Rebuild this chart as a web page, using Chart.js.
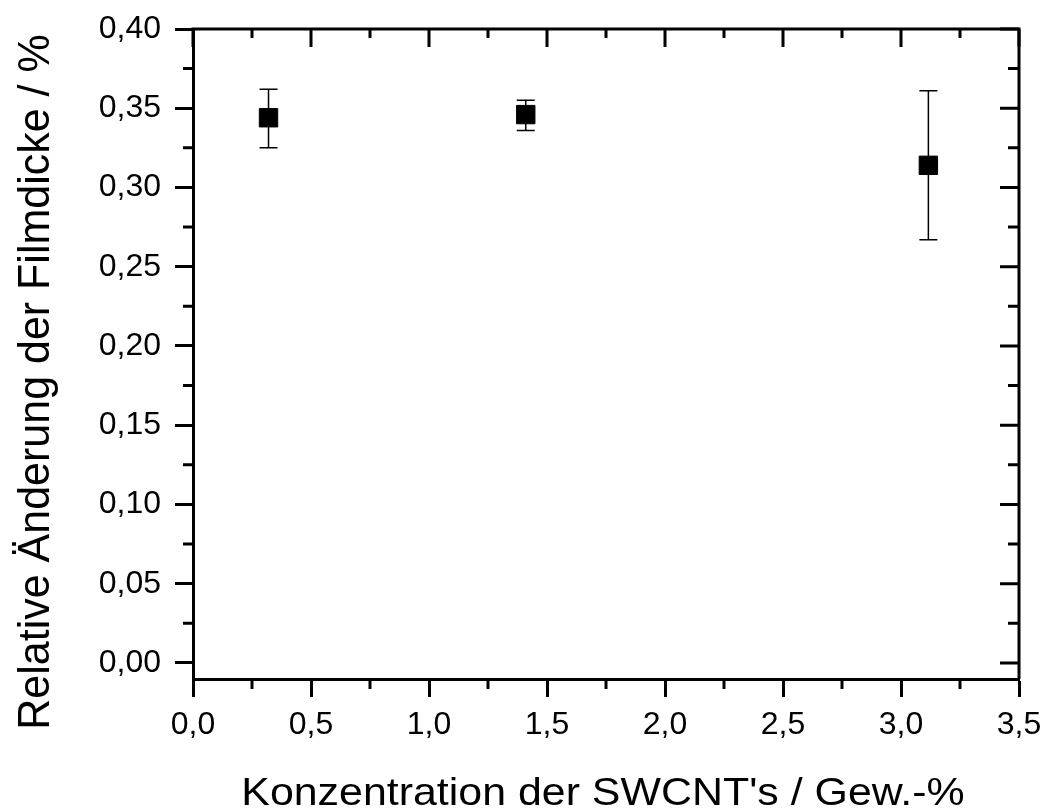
<!DOCTYPE html>
<html>
<head>
<meta charset="utf-8">
<script src="https://cdn.jsdelivr.net/npm/chart.js@4.4.1/dist/chart.umd.min.js"></script>
<style>
  html, body { margin: 0; padding: 0; background: #fff; }
  #wrap { width: 1044px; height: 809px; }
</style>
</head>
<body>
<div id="wrap"><canvas id="chart" width="1044" height="809"></canvas></div>
<script>
// Data
const concentration = [0.32, 1.41, 3.116];      // Gew.-%
const thicknessChange = [0.344, 0.346, 0.314];  // relative change / %
const errLow = [0.325, 0.336, 0.267];
const errHigh = [0.362, 0.355, 0.361];

const xTitle = 'Konzentration der SWCNT\'s / Gew.-%';
const yTitle = 'Relative Änderung der Filmdicke / %';

const FONT = '"Liberation Sans", Arial, sans-serif';

const comma = (v, d) => v.toFixed(d).replace('.', ',');

// error bars, minor ticks, top/right frame and axis titles
const extrasPlugin = {
    id: 'extras',
    afterDatasetsDraw(chart) {
        const ctx = chart.ctx;
        const xs = chart.scales.x, ys = chart.scales.y;
        ctx.save();
        ctx.strokeStyle = '#000';
        ctx.lineWidth = 1.5;
        for (let i = 0; i < concentration.length; i++) {
            const px = xs.getPixelForValue(concentration[i]);
            const top = ys.getPixelForValue(errHigh[i]);
            const bot = ys.getPixelForValue(errLow[i]);
            ctx.beginPath();
            ctx.moveTo(px, top); ctx.lineTo(px, bot);
            ctx.moveTo(px - 9, top); ctx.lineTo(px + 9, top);
            ctx.moveTo(px - 9, bot); ctx.lineTo(px + 9, bot);
            ctx.stroke();
        }
        ctx.restore();
    },
    afterDraw(chart) {
        const ctx = chart.ctx;
        const a = chart.chartArea;
        const xs = chart.scales.x, ys = chart.scales.y;
        ctx.save();
        ctx.strokeStyle = '#000';
        ctx.lineWidth = 3;
        ctx.lineCap = 'butt';
        // top and right frame
        ctx.beginPath();
        ctx.moveTo(a.left - 1.5, a.top); ctx.lineTo(a.right + 1.5, a.top);
        ctx.moveTo(a.right, a.top); ctx.lineTo(a.right, a.bottom);
        ctx.stroke();

        ctx.beginPath();
        // x ticks: minor outward on bottom, major+minor inward on top
        for (let v = 0; v <= 3.5001; v += 0.25) {
            const px = xs.getPixelForValue(v);
            const major = Math.abs(v / 0.5 - Math.round(v / 0.5)) < 1e-6;
            if (!major) { ctx.moveTo(px, a.bottom); ctx.lineTo(px, a.bottom + 10); }
            ctx.moveTo(px, a.top); ctx.lineTo(px, a.top + (major ? 18 : 9));
        }
        // y ticks: minor outward on left, major+minor inward on right
        for (let v = 0; v <= 0.4001; v += 0.025) {
            const py = ys.getPixelForValue(v);
            const major = Math.abs(v / 0.05 - Math.round(v / 0.05)) < 1e-6;
            if (!major) { ctx.moveTo(a.left, py); ctx.lineTo(a.left - 10, py); }
            ctx.moveTo(a.right, py); ctx.lineTo(a.right - (major ? 19 : 11), py);
        }
        ctx.stroke();

        // axis titles
        ctx.fillStyle = '#000';
        ctx.textAlign = 'center';
        ctx.textBaseline = 'alphabetic';

        ctx.save();
        ctx.font = '39px ' + FONT;
        ctx.translate(603, 805);
        ctx.scale(1.1, 1);
        ctx.fillText(xTitle, 0, 0);
        ctx.restore();

        ctx.save();
        ctx.font = '43px ' + FONT;
        ctx.translate(49, 382);
        ctx.rotate(-Math.PI / 2);
        ctx.scale(1, 1.05);
        ctx.fillText(yTitle, 0, 0);
        ctx.restore();

        ctx.restore();
    }
};

new Chart(document.getElementById('chart'), {
    type: 'scatter',
    data: {
        datasets: [{
            label: 'Filmdicke',
            data: concentration.map((x, i) => ({ x: x, y: thicknessChange[i] })),
            pointStyle: 'rect',
            pointRadius: 13,
            pointHoverRadius: 13,
            backgroundColor: '#000',
            borderColor: '#000',
            borderWidth: 1
        }]
    },
    options: {
        responsive: false,
        animation: false,
        layout: { padding: { top: 29, right: 25, left: 0, bottom: 0 } },
        plugins: {
            legend: { display: false },
            tooltip: { enabled: false }
        },
        scales: {
            x: {
                type: 'linear',
                min: 0,
                max: 3.5,
                afterFit(scale) {
                    scale.height = 130;
                    scale.paddingLeft = 0;
                    scale.paddingRight = 0;
                },
                ticks: {
                    stepSize: 0.5,
                    includeBounds: false,
                    maxRotation: 0,
                    padding: 9,
                    color: '#000',
                    font: { family: FONT, size: 32 },
                    callback: v => comma(v, 1)
                },
                grid: {
                    drawOnChartArea: false,
                    drawTicks: true,
                    tickLength: 18,
                    tickWidth: 3,
                    tickColor: '#000'
                },
                border: { display: true, color: '#000', width: 3 }
            },
            y: {
                type: 'linear',
                min: -0.0101,
                max: 0.40,
                afterFit(scale) {
                    scale.width = 193;
                    scale.paddingTop = 0;
                    scale.paddingBottom = 0;
                },
                ticks: {
                    stepSize: 0.05,
                    includeBounds: false,
                    padding: 14,
                    color: '#000',
                    font: { family: FONT, size: 32 },
                    callback: v => comma(v, 2)
                },
                grid: {
                    drawOnChartArea: false,
                    drawTicks: true,
                    tickLength: 18,
                    tickWidth: 3,
                    tickColor: '#000'
                },
                border: { display: true, color: '#000', width: 3 }
            }
        }
    },
    plugins: [extrasPlugin]
});
</script>
</body>
</html>
